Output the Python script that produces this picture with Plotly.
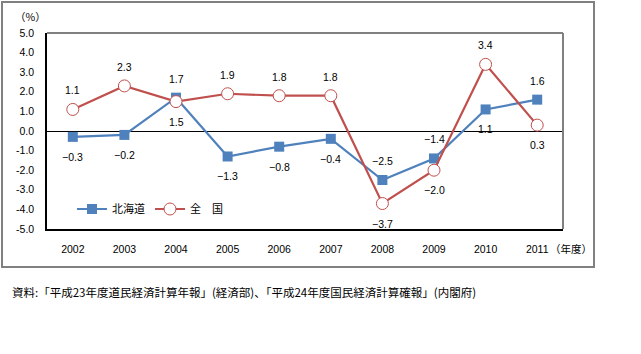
import plotly.graph_objects as go

years = ["2002", "2003", "2004", "2005", "2006", "2007", "2008", "2009", "2010", "2011"]
hokkaido = [-0.3, -0.2, 1.7, -1.3, -0.8, -0.4, -2.5, -1.4, 1.1, 1.6]
zenkoku = [1.1, 2.3, 1.5, 1.9, 1.8, 1.8, -3.7, -2.0, 3.4, 0.3]
# label placement: True = above the point
hok_above = [False, False, True, False, False, False, True, True, False, True]
zen_above = [True, True, False, True, True, True, False, False, True, False]
ytick_vals = [-5, -4, -3, -2, -1, 0, 1, 2, 3, 4, 5]
ytick_text = ["-5.0", "-4.0", "-3.0", "-2.0", "-1.0", "0.0", "1.0", "2.0", "3.0", "4.0", "5.0"]

BLUE = "#4F81BD"
RED = "#C0504D"
FONT = "Liberation Sans, Arial, sans-serif"
JFONT = "Noto Sans CJK JP"

fig = go.Figure()
fig.add_trace(go.Scatter(
    x=years, y=hokkaido, name="北海道", mode="lines+markers",
    line=dict(color=BLUE, width=2.2),
    marker=dict(symbol="square", size=10, color=BLUE),
))
fig.add_trace(go.Scatter(
    x=years, y=zenkoku, name="全\u3000国", mode="lines+markers",
    line=dict(color=RED, width=2.2),
    marker=dict(symbol="circle", size=12, color="white", line=dict(color=RED, width=1)),
))

def fmt(v):
    s = f"{abs(v):.1f}"
    return ("\u2212" + s) if v < 0 else s

annotations = []
for i, (v, up) in enumerate(zip(hokkaido, hok_above)):
    annotations.append(dict(x=i, y=v, xref="x", yref="y", text=fmt(v), showarrow=False,
                            yshift=19 if up else -20,
                            font=dict(family=FONT, size=10.5, color="#000")))
for i, (v, up) in enumerate(zip(zenkoku, zen_above)):
    annotations.append(dict(x=i, y=v, xref="x", yref="y", text=fmt(v), showarrow=False,
                            yshift=19 if up else -20,
                            font=dict(family=FONT, size=10.5, color="#000")))

W, H = 641, 354
L, R, T, B = 47, 563, 33, 229
pw, ph = R - L, B - T
def px(x):
    return (x - L) / pw
def py(y):
    return (B - y) / ph

annotations.append(dict(xref="paper", yref="paper", x=px(30), y=py(17), text="（%）",
                        xanchor="center", yanchor="middle",
                        showarrow=False, font=dict(family=JFONT, size=10.5, color="#000")))
annotations.append(dict(xref="paper", yref="paper", x=px(548), y=py(248), text="（年度）",
                        xanchor="left", yanchor="middle",
                        showarrow=False, font=dict(family=JFONT, size=10.5, color="#000")))
annotations.append(dict(xref="paper", yref="paper", x=px(10), y=py(292), xanchor="left",
                        yanchor="middle",
                        text="資料:「平成23年度道民経済計算年報」(経済部)、「平成24年度国民経済計算確報」(内閣府)",
                        showarrow=False, font=dict(family=JFONT, size=11.5, color="#000")))

shapes = [
    dict(type="rect", xref="paper", yref="paper", x0=px(2), x1=px(594), y0=py(267), y1=py(2),
         line=dict(color="#808080", width=2)),
    dict(type="line", xref="paper", yref="paper", x0=0, x1=1, y0=1, y1=1,
         line=dict(color="#808080", width=2)),
    dict(type="line", xref="paper", yref="paper", x0=1, x1=1, y0=0, y1=1,
         line=dict(color="#808080", width=2)),
]

fig.update_layout(
    width=W, height=H,
    margin=dict(l=L, r=W - R, t=T, b=H - B),
    paper_bgcolor="white", plot_bgcolor="white",
    showlegend=True,
    legend=dict(orientation="h", x=px(72), y=py(209), xanchor="left", yanchor="middle",
                bgcolor="rgba(0,0,0,0)", font=dict(family=JFONT, size=11, color="#000"),
                itemwidth=30, tracegroupgap=0),
    annotations=annotations,
    shapes=shapes,
    xaxis=dict(type="category", range=[-0.5, len(years) - 0.5], showgrid=False, showline=True,
               linecolor="#000", linewidth=1.5,
               ticks="", tickfont=dict(family=FONT, size=10.5, color="#000"),
               ticklabelstandoff=10, zeroline=False),
    yaxis=dict(range=[-5, 5], tickvals=ytick_vals, ticktext=ytick_text, showgrid=False,
               showline=True, linecolor="#000", linewidth=1.5, ticks="",
               tickfont=dict(family=FONT, size=10.5, color="#000"), ticklabelstandoff=9,
               zeroline=True, zerolinecolor="#000", zerolinewidth=1),
)

fig.write_html("out.html")
